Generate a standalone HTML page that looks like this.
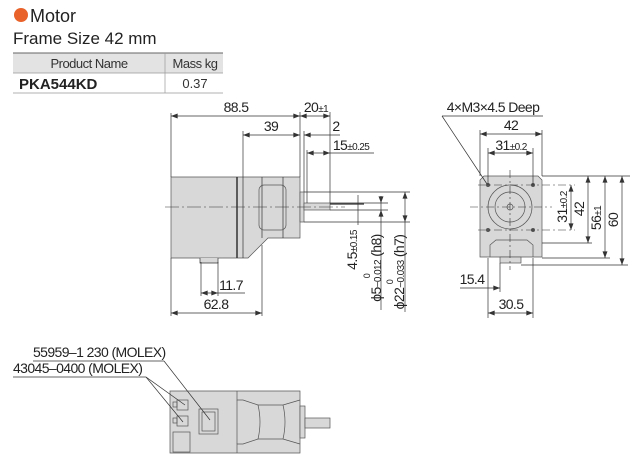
<!DOCTYPE html>
<html><head><meta charset="utf-8"><style>
html,body{margin:0;padding:0;background:#fff;width:640px;height:461px;overflow:hidden}
svg{display:block;font-family:"Liberation Sans",sans-serif}
</style></head><body>
<svg width="640" height="461" viewBox="0 0 640 461" xmlns="http://www.w3.org/2000/svg">
<defs>
<marker id="a" viewBox="0 0 8 6" refX="8" refY="3" markerWidth="7" markerHeight="5" orient="auto-start-reverse" markerUnits="userSpaceOnUse"><path d="M0,0 L8,3 L0,6z" fill="#333"/></marker>
</defs>
<!-- header -->
<circle cx="21" cy="15" r="7" fill="#e8622a"/>
<text x="30" y="22" font-size="18" fill="#222">Motor</text>
<text x="13" y="44" font-size="17" fill="#222">Frame Size 42 mm</text>
<rect x="13" y="53" width="210" height="20" fill="#e3e3e3"/>
<line x1="13" y1="53" x2="223" y2="53" stroke="#666" stroke-width="1"/>
<line x1="13" y1="73" x2="223" y2="73" stroke="#999" stroke-width="0.7"/>
<line x1="13" y1="93" x2="223" y2="93" stroke="#999" stroke-width="0.7"/>
<line x1="165" y1="53" x2="165" y2="93" stroke="#999" stroke-width="0.7"/>
<text x="89" y="68" font-size="13" letter-spacing="-0.5" text-anchor="middle" fill="#333">Product Name</text>
<text x="195" y="68" font-size="13" letter-spacing="-0.5" text-anchor="middle" fill="#333">Mass kg</text>
<text x="19" y="89" font-weight="bold" font-size="15" fill="#222">PKA544KD</text>
<text x="195" y="88" font-size="13" text-anchor="middle" fill="#333">0.37</text>

<g stroke="#333" stroke-width="0.7" fill="none">
<!-- side view body -->
<path d="M171,177 H300 V238 H268 L248,258 H171 L171,240 Z" fill="#d8d8d8" stroke="#555"/>
<line x1="237" y1="177" x2="237" y2="258" stroke="#333" stroke-width="1.5"/>
<line x1="243" y1="177" x2="243" y2="258"/>
<line x1="262" y1="177" x2="262" y2="238"/>
<line x1="283" y1="177" x2="283" y2="238"/>
<rect x="259" y="185" width="27" height="45" rx="5" stroke="#555"/>
<rect x="300" y="192" width="4" height="30" fill="#d8d8d8" stroke="#555"/>
<rect x="304" y="203" width="26" height="7" fill="#d8d8d8" stroke="#555"/>
<path d="M200,258 V263 H218 V258" fill="#d8d8d8"/>
<line x1="165" y1="207" x2="345" y2="207" stroke-dasharray="14,3,2,3" stroke-width="0.6"/>
<!-- side dims -->
<line x1="171" y1="113" x2="171" y2="177"/>
<line x1="300" y1="112" x2="300" y2="177"/>
<line x1="304" y1="131" x2="304" y2="192"/>
<line x1="307" y1="150" x2="307" y2="203"/>
<line x1="330" y1="112" x2="330" y2="203"/>
<line x1="243" y1="131" x2="243" y2="177"/>
<line x1="171" y1="116" x2="300" y2="116" marker-start="url(#a)" marker-end="url(#a)"/>
<line x1="300" y1="116" x2="330" y2="116" marker-start="url(#a)" marker-end="url(#a)"/>
<line x1="243" y1="135" x2="300" y2="135" marker-start="url(#a)" marker-end="url(#a)"/>
<line x1="304" y1="135" x2="340" y2="135" marker-start="url(#a)"/>
<line x1="307" y1="153" x2="330" y2="153" marker-start="url(#a)" marker-end="url(#a)"/>
<line x1="330" y1="153" x2="374" y2="153"/>
<line x1="330" y1="204" x2="364" y2="204" stroke-width="1.3"/>
<line x1="330" y1="203" x2="388" y2="203"/>
<line x1="330" y1="210" x2="388" y2="210"/>
<line x1="304" y1="192" x2="410" y2="192"/>
<line x1="304" y1="222" x2="410" y2="222"/>
<line x1="358" y1="195" x2="358" y2="225"/>
<line x1="381" y1="203" x2="381" y2="310" />
<line x1="381" y1="196" x2="381" y2="203" marker-end="url(#a)"/>
<line x1="381" y1="217" x2="381" y2="210" marker-end="url(#a)"/>
<line x1="405" y1="192" x2="405" y2="222" marker-start="url(#a)" marker-end="url(#a)"/>
<line x1="405" y1="222" x2="405" y2="312"/>
<line x1="201" y1="262" x2="201" y2="296"/>
<line x1="218" y1="262" x2="218" y2="296"/>
<line x1="201" y1="293" x2="218" y2="293" marker-start="url(#a)" marker-end="url(#a)"/>
<line x1="218" y1="293" x2="245" y2="293"/>
<line x1="171" y1="258" x2="171" y2="316"/>
<line x1="262" y1="245" x2="262" y2="316"/>
<line x1="171" y1="313" x2="262" y2="313" marker-start="url(#a)" marker-end="url(#a)"/>

<!-- front view -->
<path d="M484,176 H538 L542,180 V257 H480 V180 Z" fill="#d8d8d8" stroke="#555"/>
<path d="M490,257 V245 L496,240 H527 L533,245 V257" stroke="#555"/>
<rect x="500" y="257" width="21" height="6" fill="#d8d8d8" stroke="#555"/>
<circle cx="510" cy="207" r="22" stroke="#555"/>
<circle cx="510" cy="207" r="15" stroke="#555"/>
<circle cx="510" cy="207" r="3" stroke="#555"/>
<g fill="#555" stroke="none"><circle cx="488" cy="185" r="2"/><circle cx="533" cy="185" r="2"/><circle cx="488" cy="230" r="2"/><circle cx="533" cy="230" r="2"/></g>
<g stroke-dasharray="8,3,2,3" stroke-width="0.6">
<line x1="470" y1="207" x2="552" y2="207"/>
<line x1="510" y1="170" x2="510" y2="270"/>
<line x1="478" y1="185" x2="575" y2="185"/>
<line x1="478" y1="230" x2="575" y2="230"/>
</g>
<line x1="442" y1="116" x2="543" y2="116"/>
<line x1="442" y1="116" x2="487" y2="184"/>
<line x1="480" y1="130" x2="480" y2="176"/>
<line x1="542" y1="130" x2="542" y2="176"/>
<line x1="480" y1="134" x2="542" y2="134" marker-start="url(#a)" marker-end="url(#a)"/>
<line x1="488" y1="148" x2="488" y2="185"/>
<line x1="533" y1="148" x2="533" y2="185"/>
<line x1="488" y1="153" x2="533" y2="153" marker-start="url(#a)" marker-end="url(#a)"/>
<line x1="542" y1="176" x2="630" y2="176"/>
<line x1="542" y1="243" x2="592" y2="243"/>
<line x1="542" y1="258" x2="610" y2="258"/>
<line x1="521" y1="265" x2="628" y2="265"/>
<line x1="571" y1="185" x2="571" y2="230" marker-start="url(#a)" marker-end="url(#a)"/>
<line x1="588" y1="176" x2="588" y2="243" marker-start="url(#a)" marker-end="url(#a)"/>
<line x1="605" y1="176" x2="605" y2="258" marker-start="url(#a)" marker-end="url(#a)"/>
<line x1="622" y1="176" x2="622" y2="265" marker-start="url(#a)" marker-end="url(#a)"/>
<line x1="500" y1="263" x2="500" y2="292"/>
<line x1="460" y1="288" x2="500" y2="288" marker-end="url(#a)"/>
<line x1="488" y1="258" x2="488" y2="318"/>
<line x1="533" y1="258" x2="533" y2="318"/>
<line x1="488" y1="313" x2="533" y2="313" marker-start="url(#a)" marker-end="url(#a)"/>

<!-- bottom view -->
<path d="M170,391 H300 V453 H170 Z" fill="#d8d8d8" stroke="#555"/>
<path d="M237,391 V400 H243 L258,405 H283 L300,400 M237,453 V444 H243 L258,439 H283 L300,444" stroke="#555"/>
<path d="M258,405 Q262,422 258,439 M283,405 Q287,422 283,439 M237,400 V444" stroke="#555"/>
<rect x="300" y="406" width="5" height="32" fill="#d8d8d8" stroke="#555"/>
<rect x="305" y="418" width="25" height="10" fill="#d8d8d8" stroke="#555"/>
<rect x="177" y="400" width="11" height="10" stroke="#555"/>
<rect x="177" y="416" width="11" height="10" stroke="#555"/>
<rect x="173" y="402" width="4" height="5" stroke="#555"/>
<rect x="173" y="418" width="4" height="5" stroke="#555"/>
<rect x="199" y="409" width="19" height="25" stroke="#555"/>
<rect x="202" y="412" width="13" height="19" stroke="#555"/>
<rect x="173" y="432" width="17" height="20" stroke="#555"/>
<line x1="33" y1="361" x2="164" y2="361"/>
<line x1="164" y1="361" x2="210" y2="420"/>
<line x1="13" y1="377" x2="146" y2="377"/>
<line x1="146" y1="377" x2="185" y2="405"/>
<line x1="146" y1="377" x2="183" y2="422"/>
</g>

<g font-size="14" fill="#222" text-anchor="middle" letter-spacing="-0.6">
<text x="236" y="112">88.5</text>
<text x="271" y="131">39</text>
<text x="316" y="112">20<tspan font-size="10">±1</tspan></text>
<text x="336" y="131">2</text>
<text x="351" y="150">15<tspan font-size="10">±0.25</tspan></text>
<text x="231" y="290">11.7</text>
<text x="216" y="309">62.8</text>
<text x="493" y="112">4×M3×4.5 Deep</text>
<text x="511" y="130">42</text>
<text x="511" y="150">31<tspan font-size="10">±0.2</tspan></text>
<text x="472" y="284">15.4</text>
<text x="511" y="309">30.5</text>
<text x="33" y="357" text-anchor="start">55959–1 230 (MOLEX)</text>
<text x="13" y="373" text-anchor="start">43045–0400 (MOLEX)</text>
<text transform="translate(357,250) rotate(-90)">4.5<tspan font-size="10">±0.15</tspan></text>
<text transform="translate(381,268) rotate(-90)">ϕ5<tspan font-size="10">−0.012</tspan> (h8)</text>
<text transform="translate(370,276) rotate(-90)" font-size="9">0</text>
<text transform="translate(404,272) rotate(-90)">ϕ22<tspan font-size="10">−0.033</tspan> (h7)</text>
<text transform="translate(393,282) rotate(-90)" font-size="9">0</text>
<text transform="translate(567,207) rotate(-90)">31<tspan font-size="10">±0.2</tspan></text>
<text transform="translate(584,209) rotate(-90)">42</text>
<text transform="translate(601,218) rotate(-90)">56<tspan font-size="10">±1</tspan></text>
<text transform="translate(618,220) rotate(-90)">60</text>
</g>
</svg>
</body></html>
